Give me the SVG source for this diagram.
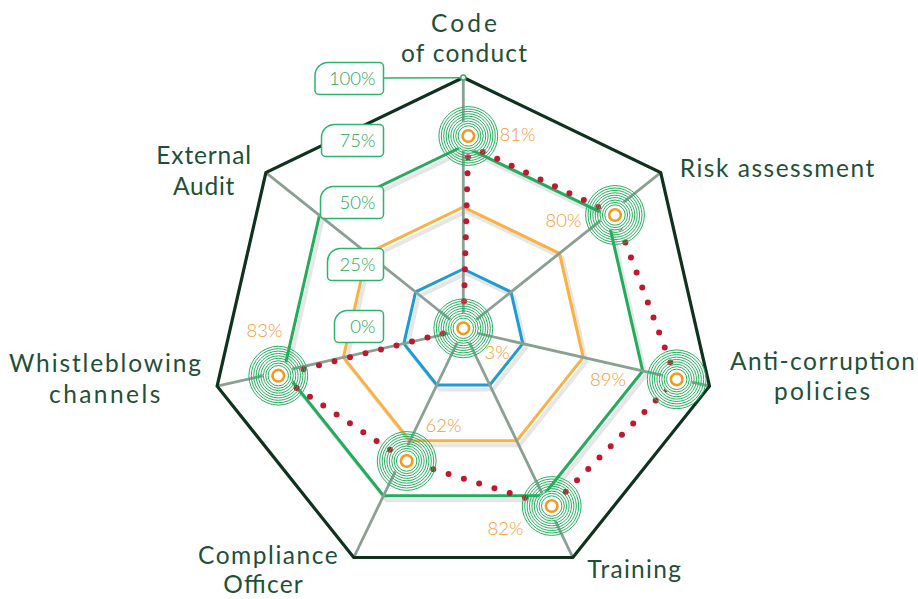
<svg xmlns="http://www.w3.org/2000/svg" width="918" height="599" viewBox="0 0 918 599">
<style>
.cat{font-family:Lato,"Liberation Sans",sans-serif;font-size:24.5px;font-weight:400;fill:#1f5037}
.pct{font-family:Lato,"Liberation Sans",sans-serif;font-size:18.5px;font-weight:300;fill:#f39a35}
.lvl{font-family:Lato,"Liberation Sans",sans-serif;font-size:18.5px;font-weight:300;fill:#1fa85a;text-anchor:end}
.box{fill:#fff;stroke:#2db36b;stroke-width:1.5}
.shadow{fill:none;stroke:#e6e6e6;stroke-width:4;stroke-linejoin:round}
.grid{fill:none;stroke-width:3;stroke-linejoin:round}
.axis{stroke:#8aa093;stroke-width:2.8}
</style>
<defs>
<g id="ring">
<circle r="15.5" fill="#fff"/>
<g fill="none" stroke="#27ae60" stroke-width="1">
<circle r="10.2"/><circle r="12.6"/><circle r="15"/><circle r="17.4"/><circle r="19.8"/><circle r="22.2"/><circle r="24.6"/><circle r="27"/><circle r="29.4"/>
</g>
<circle r="5.8" fill="#fff" stroke="#f39a1e" stroke-width="2.6"/>
</g>
</defs>
<rect width="918" height="599" fill="#fff"/>
<g id="grid">
<g transform="translate(3,4.5)">
<polygon class="shadow" points="463.3,146 607.16,215.28 642.69,370.94 543.13,495.78 383.47,495.78 283.91,370.94 319.44,215.28"/>
<polygon class="shadow" points="463.3,207 559.47,253.31 583.22,357.37 516.67,440.82 409.93,440.82 343.38,357.37 367.13,253.31"/>
<polygon class="shadow" points="463.3,269 510.99,291.97 522.77,343.57 489.77,384.96 436.83,384.96 403.83,343.57 415.61,291.97"/>
</g>
<polygon class="grid" stroke="#1e9ad6" points="463.3,269 510.99,291.97 522.77,343.57 489.77,384.96 436.83,384.96 403.83,343.57 415.61,291.97"/>
<polygon class="grid" stroke="#fbb040" points="463.3,207 559.47,253.31 583.22,357.37 516.67,440.82 409.93,440.82 343.38,357.37 367.13,253.31"/>
<polygon class="grid" stroke="#22ad5c" points="463.3,146 607.16,215.28 642.69,370.94 543.13,495.78 383.47,495.78 283.91,370.94 319.44,215.28"/>
<g class="axis">
<line x1="463.3" y1="330" x2="463.3" y2="77.5"/>
<line x1="463.3" y1="330" x2="660.71" y2="172.57"/>
<line x1="463.3" y1="330" x2="709.47" y2="386.19"/>
<line x1="463.3" y1="330" x2="572.85" y2="557.49"/>
<line x1="463.3" y1="330" x2="353.75" y2="557.49"/>
<line x1="463.3" y1="330" x2="217.13" y2="386.19"/>
<line x1="463.3" y1="330" x2="265.89" y2="172.57"/>
</g>
<polygon fill="none" stroke="#0f321f" stroke-width="3.2" stroke-linejoin="miter" points="463.3,77.5 660.71,172.57 709.47,386.19 572.85,557.49 353.75,557.49 217.13,386.19 265.89,172.57"/>
<line x1="383.5" y1="78" x2="463.3" y2="77.7" stroke="#2db36b" stroke-width="1.5"/>
<circle cx="463.3" cy="77.6" r="2.5" fill="#fff" stroke="#2db36b" stroke-width="1.5"/>
</g>
<g id="connectors">
<path d="M468.3,145 L615,215 L676.7,379.3 L551.7,506 L406.7,461 L278.3,375.7 L463.3,328.3 Z" fill="none" stroke="#c0182e" stroke-width="6" stroke-linecap="round" stroke-linejoin="round" stroke-dasharray="0 16"/>
</g>
<g id="node-code-of-conduct">
<use href="#ring" x="468.3" y="136"/>
<text class="pct" x="499.5" y="141">81%</text>
<text class="cat" x="431" y="31.5" textLength="66">Code</text>
<text class="cat" x="401" y="61.7" textLength="126">of conduct</text>
</g>
<g id="node-risk-assessment">
<use href="#ring" x="615" y="215"/>
<text class="pct" x="581.5" y="226.5" text-anchor="end">80%</text>
<text class="cat" x="679.7" y="177.3" textLength="194.6">Risk assessment</text>
</g>
<g id="node-anti-corruption">
<use href="#ring" x="676.7" y="379.3"/>
<text class="pct" x="626" y="386" text-anchor="end">89%</text>
<text class="cat" x="730" y="370" textLength="185">Anti-corruption</text>
<text class="cat" x="774" y="400" textLength="96">policies</text>
</g>
<g id="node-training">
<use href="#ring" x="551.7" y="506"/>
<text class="pct" x="523.5" y="535" text-anchor="end">82%</text>
<text class="cat" x="587.3" y="578.3" textLength="93.7">Training</text>
</g>
<g id="node-compliance-officer">
<use href="#ring" x="406.7" y="461"/>
<text class="pct" x="425.5" y="432.3">62%</text>
<text class="cat" x="198" y="564" textLength="139.7">Compliance</text>
<text class="cat" x="223.3" y="593.3" textLength="79.4">Officer</text>
</g>
<g id="node-whistleblowing">
<use href="#ring" x="278.3" y="375.7"/>
<text class="pct" x="246.5" y="337.3">83%</text>
<text class="cat" x="9" y="372.3" textLength="192">Whistleblowing</text>
<text class="cat" x="49" y="402.7" textLength="111.3">channels</text>
</g>
<g id="node-external-audit">
<use href="#ring" x="463.3" y="328.3"/>
<text class="pct" x="484.5" y="359.3">3%</text>
<text class="cat" x="156.3" y="164.3" textLength="94.7">External</text>
<text class="cat" x="173" y="195" textLength="61.3">Audit</text>
</g>
<g id="levels">
<path class="box" d="M328,62.5 H379.5 A4,4 0 0 1 383.5,66.5 V90.5 A4,4 0 0 1 379.5,94.5 H319 A4,4 0 0 1 315,90.5 V75.5 A13,13 0 0 1 328,62.5 Z"/>
<text class="lvl" x="375.5" y="84.5">100%</text>
<path class="box" d="M334.5,124.5 H379.5 A4,4 0 0 1 383.5,128.5 V152.5 A4,4 0 0 1 379.5,156.5 H325.5 A4,4 0 0 1 321.5,152.5 V137.5 A13,13 0 0 1 334.5,124.5 Z"/>
<text class="lvl" x="375.5" y="146.5">75%</text>
<path class="box" d="M333.5,186.5 H379.5 A4,4 0 0 1 383.5,190.5 V214.5 A4,4 0 0 1 379.5,218.5 H324.5 A4,4 0 0 1 320.5,214.5 V199.5 A13,13 0 0 1 333.5,186.5 Z"/>
<text class="lvl" x="375.5" y="208.5">50%</text>
<path class="box" d="M340.5,248.5 H379.5 A4,4 0 0 1 383.5,252.5 V276.5 A4,4 0 0 1 379.5,280.5 H331.5 A4,4 0 0 1 327.5,276.5 V261.5 A13,13 0 0 1 340.5,248.5 Z"/>
<text class="lvl" x="375.5" y="270.5">25%</text>
<path class="box" d="M347.5,310.5 H379.5 A4,4 0 0 1 383.5,314.5 V338.5 A4,4 0 0 1 379.5,342.5 H338.5 A4,4 0 0 1 334.5,338.5 V323.5 A13,13 0 0 1 347.5,310.5 Z"/>
<text class="lvl" x="375.5" y="332.5">0%</text>
</g>
</svg>
